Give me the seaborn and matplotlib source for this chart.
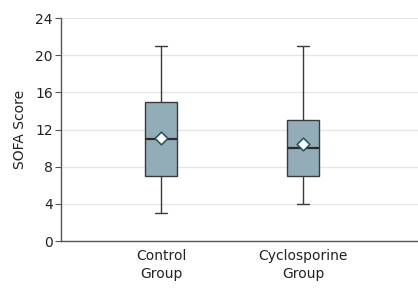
import pandas as pd
import matplotlib.pyplot as plt
import seaborn as sns

# Five-number summaries (min, Q1, median, Q3, max)
groups = ["Control\nGroup", "Cyclosporine\nGroup"]
control_summary = [3, 7, 11, 15, 21]
cyclo_summary = [4, 7, 10, 13, 21]
means = [11.1, 10.45]
y_ticks = [0, 4, 8, 12, 16, 20, 24]

BOX_FILL = "#93adb8"
EDGE = "#3a3a3a"

sns.set_theme(style="white")
plt.rcParams["font.family"] = ["Liberation Sans Narrow", "DejaVu Sans"]

df = pd.DataFrame({
    "group": [groups[0]] * len(control_summary) + [groups[1]] * len(cyclo_summary),
    "score": control_summary + cyclo_summary,
})
mean_df = pd.DataFrame({"group": groups, "mean": means})

fig = plt.figure(figsize=(4.18, 2.88), dpi=100)
ax = fig.add_axes([0.146, 0.163, 0.854, 0.7745])

ax.yaxis.grid(True, color="#e6e6e6", linewidth=0.9, zorder=0)
ax.set_axisbelow(True)

sns.boxplot(data=df, x="group", y="score", order=groups, whis=(0, 100),
            width=0.22, color=BOX_FILL, saturation=1, linecolor=EDGE,
            linewidth=1.0, fliersize=0, ax=ax, capwidths=0.09,
            medianprops={"linewidth": 1.6, "color": "#2b2b2b"},
            capprops={"linewidth": 1.0})

sns.scatterplot(data=mean_df, x="group", y="mean", marker="D", s=42,
                color="white", edgecolor="#2e5563", linewidth=1.2,
                zorder=5, ax=ax, legend=False)

ax.set_xlim(-0.704, 1.81)
ax.set_ylim(0, 24)
ax.set_yticks(y_ticks)
ax.set_ylabel("SOFA Score", fontsize=10, color="#222222", labelpad=6)
ax.set_xlabel("")
ax.tick_params(axis="y", length=4, width=0.8, color="#555555", labelsize=10,
               labelcolor="#222222", pad=2, left=True)
ax.tick_params(axis="x", length=0, labelsize=10, labelcolor="#222222", pad=6)
for lbl in ax.get_xticklabels():
    lbl.set_linespacing(1.3)

for side in ["top", "right"]:
    ax.spines[side].set_visible(False)
for side in ["left", "bottom"]:
    ax.spines[side].set_color("#555555")
    ax.spines[side].set_linewidth(1.0)

fig.savefig("out.png", dpi=100)
